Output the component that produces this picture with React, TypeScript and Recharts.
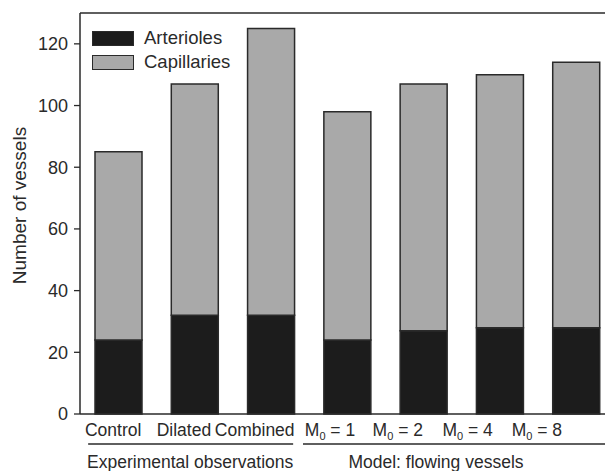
import { Bar, BarChart, ReferenceLine, XAxis, YAxis } from 'recharts'

const categories = ['Control', 'Dilated', 'Combined', 'M0 = 1', 'M0 = 2', 'M0 = 4', 'M0 = 8']
const arterioles = [24, 32, 32, 24, 27, 28, 28]
const capillaries = [61, 75, 93, 74, 80, 82, 86]
const yTicks = [0, 20, 40, 60, 80, 100, 120]

const groups = [
  { label: 'Experimental observations', first: 0, lineFrom: -30, lineTo: 175, textAt: 72 },
  { label: 'Model: flowing vessels', first: 3, lineFrom: -44, lineTo: 280, textAt: 89 },
]

const series = [
  { key: 'arterioles', name: 'Arterioles', color: '#1c1c1c' },
  { key: 'capillaries', name: 'Capillaries', color: '#a9a9a9' },
]

const data = categories.map((name, i) => ({
  name,
  arterioles: arterioles[i],
  capillaries: capillaries[i],
}))

const font = '"Liberation Sans", Arial, sans-serif'
const ink = '#2a2a2a'

// the original figure sets its labels a bit tighter than the bars
const labelShift = [-5, -10.5, -16, -17, -25.5, -32, -39]

const XTick = (props: any) => {
  const { x, y, payload, index } = props
  const label: string = payload.value
  const group = groups.find((g) => g.first === index)
  const lx = x + (labelShift[index] ?? 0)
  return (
    <g>
      <text x={lx} y={y} dy={14} textAnchor='middle' fontSize={17.5} fill={ink} fontFamily={font}>
        {label.startsWith('M0') ? (
          <>
            <tspan>M</tspan>
            <tspan fontSize={11} dy={4}>0</tspan>
            <tspan dy={-4}>{label.slice(2)}</tspan>
          </>
        ) : (
          label
        )}
      </text>
      {group && (
        <>
          <line x1={x + group.lineFrom} x2={x + group.lineTo} y1={y + 22} y2={y + 22} stroke={ink} strokeWidth={1.3} />
          <text x={x + group.textAt} y={y + 46} textAnchor='middle' fontSize={17.5} fill={ink} fontFamily={font}>
            {group.label}
          </text>
        </>
      )}
    </g>
  )
}

const App = () => {
  return (
    <div style={{ position: 'absolute', left: 0, top: 0, width: 605, height: 471, overflow: 'hidden', background: '#fff' }}>
      <BarChart width={620} height={471} data={data} margin={{ top: 13, right: 6, bottom: 0, left: 0 }}>
        <ReferenceLine y={130} stroke={ink} strokeWidth={1.5} />
        <XAxis
          dataKey='name'
          height={57}
          tickLine={false}
          axisLine={{ stroke: ink, strokeWidth: 1.5 }}
          tick={<XTick />}
          interval={0}
        />
        <YAxis
          width={80}
          domain={[0, 130]}
          ticks={yTicks}
          tickSize={6}
          tickMargin={6}
          axisLine={{ stroke: ink, strokeWidth: 1.5 }}
          tickLine={{ stroke: ink, strokeWidth: 1.3 }}
          tick={{ fill: ink, fontSize: 18, fontFamily: font }}
          label={{
            value: 'Number of vessels',
            angle: -90,
            position: 'insideLeft',
            dx: 14,
            dy: -8,
            style: { textAnchor: 'middle', fill: ink, fontSize: 19, fontFamily: font },
          }}
        />
        {series.map((s) => (
          <Bar
            key={s.key}
            dataKey={s.key}
            name={s.name}
            stackId='a'
            fill={s.color}
            stroke={ink}
            strokeWidth={1.5}
            barSize={47}
            isAnimationActive={false}
          />
        ))}
      </BarChart>
      <div style={{ position: 'absolute', left: 92, top: 26, fontFamily: font, fontSize: 18.5, color: ink }}>
        {series.map((s) => (
          <div key={s.key} style={{ display: 'flex', alignItems: 'center', height: 24 }}>
            <div
              style={{
                width: 40,
                height: 13,
                background: s.color,
                border: `1.5px solid ${ink}`,
                marginRight: 10,
              }}
            />
            <span>{s.name}</span>
          </div>
        ))}
      </div>
    </div>
  )
}

export default App
